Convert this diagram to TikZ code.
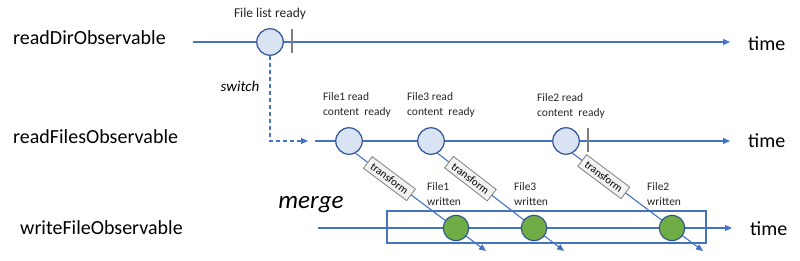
\documentclass[tikz,border=0pt]{standalone}
\usepackage{fontspec}
\setmainfont{Carlito}
\usetikzlibrary{arrows.meta,backgrounds}
\definecolor{lineblue}{HTML}{4472C4}
\definecolor{circfill}{HTML}{DAE3F3}
\definecolor{circdraw}{HTML}{2F5597}
\definecolor{grfill}{HTML}{70AD47}
\definecolor{grdraw}{HTML}{2F528F}
\definecolor{tickgray}{HTML}{7F7F7F}
\definecolor{boxfill}{HTML}{F2F2F2}
\definecolor{txt}{HTML}{262626}
\tikzset{
  flow/.style={draw=lineblue, line width=1.1pt},
  arr/.style={flow, -{Triangle[length=7pt,width=6pt]}},
  blueev/.style={circle, fill=circfill, draw=circdraw, line width=1.2pt, minimum size=26.5pt, inner sep=0pt},
  greenev/.style={circle, fill=grfill, draw=grdraw, line width=1.1pt, minimum size=25.5pt, inner sep=0pt},
  tickmark/.style={draw=tickgray, line width=1.8pt},
  tbox/.style={draw=tickgray, fill=boxfill, line width=0.8pt, minimum width=54pt, minimum height=14.5pt, inner sep=0pt, font=\fontsize{11}{13}\selectfont, text=black},
  biglab/.style={anchor=west, font=\fontsize{20}{24}\selectfont, text=black, inner sep=0pt},
  smalllab/.style={anchor=west, align=left, font=\fontsize{11.5}{14.5}\selectfont, text=txt, inner sep=0pt},
}
\begin{document}
\begin{tikzpicture}[x=1pt,y=-1pt]
\useasboundingbox (0,0) rectangle (800,260);
% left labels
\node[biglab] (l1) at (13,38) {readDirObservable};
\node[biglab] (l2) at (13,137) {readFilesObservable};
\node[biglab] (l3) at (20,228) {writeFileObservable};
% time labels
\node[biglab] (t1) at (748,44) {time};
\node[biglab] (t2) at (748,141) {time};
\node[biglab] (t3) at (750,229) {time};
% row coordinates
\coordinate (r1s) at (193,42);
\coordinate (r1e) at (730,42);
\coordinate (r2s) at (315,141);
\coordinate (r2e) at (730,141);
\coordinate (r3s) at (318,228);
\coordinate (r3e) at (732,228);
\coordinate (swend) at (308,141);
% events
\node[blueev] (c1) at (270,42) {};
\node[blueev] (c21) at (349,141) {};
\node[blueev] (c22) at (431,141) {};
\node[blueev] (c23) at (566,141) {};
\node[greenev] (g1) at (456,228) {};
\node[greenev] (g2) at (534,228) {};
\node[greenev] (g3) at (672,228) {};
\coordinate (e1) at (486,251);
\coordinate (e2) at (564,251);
\coordinate (e3) at (703,251);
% labels
\node[font=\fontsize{13.5}{16}\selectfont, text=txt, inner sep=0pt] (fl) at (270,14) {File list ready};
\node[font=\fontsize{15}{18}\selectfont\itshape, text=black, inner sep=0pt] (swl) at (240,86) {switch};
\node[font=\fontsize{25}{30}\selectfont\itshape, text=black, inner sep=0pt] (mg) at (311,205) {merge};
\node[smalllab] (lb1) at (323,105) {File1 read\\content\ \ ready};
\node[smalllab] (lb2) at (407,105) {File3 read\\content\ \ ready};
\node[smalllab] (lb3) at (537,106) {File2 read\\content\ \ ready};
\node[smalllab] (w1) at (427,194) {File1\\written};
\node[smalllab] (w2) at (514,194) {File3\\written};
\node[smalllab] (w3) at (647,194) {File2\\written};
\begin{pgfonlayer}{background}
\draw[arr] (r1s) -- (r1e);
\draw[arr] (r2s) -- (r2e);
\draw[arr] (r3s) -- (r3e);
\draw[arr, dash pattern=on 4pt off 3pt] (c1.south) |- (swend);
\draw[flow] (387,211) rectangle (706,243);
\draw[arr] (c21.-62) -- node[tbox, sloped, pos=0.26] (tb1) {transform} (e1);
\draw[arr] (c22.-62) -- node[tbox, sloped, pos=0.26] (tb2) {transform} (e2);
\draw[arr] (c23.-62) -- node[tbox, sloped, pos=0.24] (tb3) {transform} (e3);
\end{pgfonlayer}
% ticks
\draw[tickmark] (292,29) -- (292,53);
\draw[tickmark] (588,128) -- (588,152);
\end{tikzpicture}
\end{document}
